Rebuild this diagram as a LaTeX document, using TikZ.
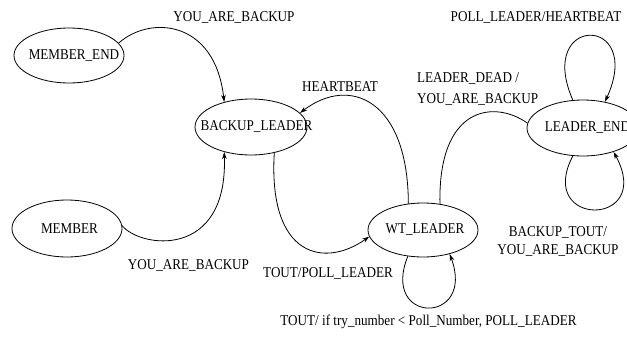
\documentclass[tikz,border=0pt]{standalone}
\usepackage{fontspec}
\setmainfont{Liberation Serif}[FakeStretch=0.875]
\usetikzlibrary{shapes.geometric,arrows.meta}
\tikzset{
  state/.style={draw, ellipse, inner sep=0pt, line width=0.8pt},
  lbl/.style={inner sep=0pt, font=\fontsize{15}{18}\selectfont},
  conn/.style={line width=0.8pt},
  arr/.style={conn, -{Stealth[length=7pt,width=4.5pt,inset=2pt]}},
}
\begin{document}
\begin{tikzpicture}[x=1pt, y=-1pt, font=\fontsize{15}{18}\selectfont]
\useasboundingbox (0,0) rectangle (627,340);
\clip (0,0) rectangle (627,340);
% states
\node[state, minimum width=110pt, minimum height=55pt] (mend) at (69,55.5) {\makebox[0pt]{\hspace*{10pt}MEMBER\_END}};
\node[state, minimum width=112pt, minimum height=56pt] (bl) at (251,127) {\makebox[0pt]{\hspace*{11pt}BACKUP\_LEADER}};
\node[state, minimum width=110pt, minimum height=57pt] (mem) at (67,228.5) {\makebox[0pt]{\hspace*{5pt}MEMBER}};
\node[state, minimum width=110pt, minimum height=54pt] (wt) at (423,230) {\makebox[0pt]{\hspace*{4pt}WT\_LEADER}};
\node[state, minimum width=112pt, minimum height=56pt] (le) at (583,128) {\makebox[0pt]{\hspace*{9pt}LEADER\_END}};
% connectors
\draw[arr] (mend.14) .. controls (150,15) and (215,20) .. (bl.137);
\draw[arr] (mem.3) .. controls (140,248) and (228,260) .. (bl.223);
\draw[arr] (bl.312) .. controls (268,258) and (325,268) .. (wt.187.5);
\draw[arr] (wt.119) .. controls (408,100) and (350,75) .. (bl.16);
\draw[conn] (wt.57) .. controls (438,105) and (495,100) .. (le.175);
\draw[arr] (wt.240) .. controls (380,325) and (476,325) .. (wt.318);
\draw[arr] (le.110) .. controls (535,14) and (645,14) .. (le.50);
\draw[arr] (le.250) .. controls (535,228) and (655,228) .. (le.322);
% labels
\node[lbl] (l1) at (234,18) {YOU\_ARE\_BACKUP};
\node[lbl] (l2) at (188.5,265) {YOU\_ARE\_BACKUP};
\node[lbl] (l3) at (328,273) {TOUT/POLL\_LEADER};
\node[lbl] (l4) at (340,87) {HEARTBEAT};
\node[lbl, align=left, anchor=west, font=\fontsize{15}{21}\selectfont] (l5) at (417,89.5) {LEADER\_DEAD /\\YOU\_ARE\_BACKUP};
\node[lbl] (l6) at (536,18) {POLL\_LEADER/HEARTBEAT};
\node[lbl, align=center] (l7) at (558,241) {BACKUP\_TOUT/\\YOU\_ARE\_BACKUP};
\node[lbl] (l8) at (428.5,322) {TOUT/ if try\_number < Poll\_Number, POLL\_LEADER};
\end{tikzpicture}
\end{document}
